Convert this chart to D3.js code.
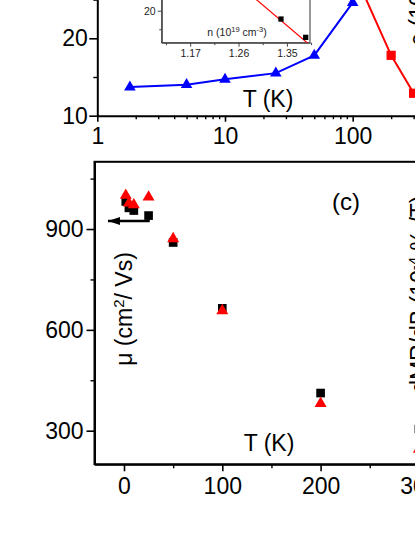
<!DOCTYPE html>
<html><head><meta charset="utf-8">
<script src="https://cdn.jsdelivr.net/npm/d3@7"></script>
<style>
html,body{margin:0;padding:0;background:#fff;}
svg{display:block;font-family:"Liberation Sans",Arial,sans-serif;}
</style></head>
<body>
<svg id="c" width="415" height="537"></svg>
<script>
// ---------- data (top panel, log T) ----------
const topTicksX = [1, 10, 100];
const topMinorX = [2,3,4,5,6,7,8,9,20,30,40,50,60,70,80,90,200,300,400];
const topTicksY = [10, 20];
const topMinorY = [15, 25];
const blueT = [1.8, 5, 10, 25, 50, 100];
const blueV = [13.7, 14.0, 14.7, 15.5, 17.8, 24.6];
const redT = [100, 200, 300];
const redV = [28.9, 17.8, 12.9];
// inset
const insetTicksX = [1.17, 1.26, 1.35];
const insetMinorX = [1.125, 1.215, 1.305, 1.395];
const insetTicksY = [20];
const insetMinorY = [17.5, 22.5];
const insetN = [1.339, 1.385];
const insetV = [18.88, 16.42];
const fitN = [1.27, 1.39];
const fitV = [22.92, 15.55];
// ---------- data (bottom panel (c)) ----------
const botTicksX = [0, 100, 200, 300];
const botMinorX = [50, 150, 250];
const botTicksY = [300, 600, 900];
const botMinorY = [450, 750, 1050];
const muT = [1.8, 5, 10, 25, 50, 100, 200, 300];
const muV = [982, 963, 955, 940, 860, 664, 412, 305];
const dmrT = [1.8, 5, 10, 25, 50, 100, 200, 300];
const dmrV = [10.0, 9.77, 9.72, 9.95, 8.71, 6.57, 3.81, 2.45];
const arrowT = [-16.3, 25, 25];
const arrowMu = [924, 924, 945];

const svg = d3.select("#c");
svg.append("rect").attr("width",415).attr("height",537).attr("fill","#fff");
const FS = 23;

function styleAxis(g, fs){
  g.select(".domain").attr("stroke","#000").attr("stroke-width",2);
  g.selectAll(".tick line").attr("stroke","#000").attr("stroke-width",1.6);
  g.selectAll(".tick text").attr("font-size",fs).attr("fill","#000")
   .attr("font-family",'"Liberation Sans",Arial,sans-serif');
}

// ================= TOP PANEL =================
const xTop = d3.scaleLog().domain([1, 400]).range([97.3, 97.3 + Math.log10(400)*127.7]);
const yTop = d3.scaleLinear().domain([10, 30]).range([115.7, 115.7 - 20*7.74]);
const yRho = d3.scaleLinear().domain([10, 30]).range([115.7, 115.7 - 20*7.74]);

const gT = svg.append("g");
gT.append("g").attr("transform",`translate(0,${yTop(10)})`)
  .call(d3.axisBottom(xTop).tickValues(topMinorX).tickSize(3.5).tickFormat(""))
  .call(g=>{g.select(".domain").remove(); g.selectAll("line").attr("stroke","#000").attr("stroke-width",1.4);});
gT.append("g").attr("transform",`translate(${xTop(1)},0)`)
  .call(d3.axisLeft(yTop).tickValues(topMinorY).tickSize(4).tickFormat(""))
  .call(g=>{g.select(".domain").remove(); g.selectAll("line").attr("stroke","#000").attr("stroke-width",1.4);});
gT.append("g").attr("transform",`translate(0,${yTop(10)})`)
  .call(d3.axisBottom(xTop).tickValues(topTicksX).tickFormat(d3.format("d")).tickSize(6).tickSizeOuter(0).tickPadding(6))
  .call(g=>styleAxis(g,FS));
gT.append("g").attr("transform",`translate(${xTop(1)},0)`)
  .call(d3.axisLeft(yTop).tickValues(topTicksY).tickSize(8).tickSizeOuter(0).tickPadding(1.5))
  .call(g=>styleAxis(g,FS));

// inset
const xIn = d3.scaleLinear().domain([1.117, 1.393]).range([161.7, 310]);
const yIn = d3.scaleLinear().domain([15.7, 25]).range([42.7, 42.7 - 9.3*7.44]);
const gI = svg.append("g");
gI.append("rect").attr("x",xIn(1.117)).attr("y",yIn(25)).attr("width",xIn(1.393)-xIn(1.117))
  .attr("height",yIn(15.7)-yIn(25)).attr("fill","#fff").attr("stroke","#444").attr("stroke-width",1.1);
gI.append("clipPath").attr("id","inclip").append("rect")
  .attr("x",xIn(1.117)).attr("y",yIn(25)).attr("width",xIn(1.393)-xIn(1.117)).attr("height",yIn(15.7)-yIn(25));
gI.append("g").attr("transform",`translate(0,${yIn(15.7)})`)
  .call(d3.axisBottom(xIn).tickValues(insetMinorX).tickSize(2.5).tickFormat(""))
  .call(g=>{g.select(".domain").remove(); g.selectAll("line").attr("stroke","#444").attr("stroke-width",1);});
gI.append("g").attr("transform",`translate(0,${yIn(15.7)})`)
  .call(d3.axisBottom(xIn).tickValues(insetTicksX).tickFormat(d3.format(".2f")).tickSize(4).tickSizeOuter(0).tickPadding(3))
  .call(g=>{g.select(".domain").attr("stroke","#444").attr("stroke-width",1.1);
            g.selectAll(".tick line").attr("stroke","#444").attr("stroke-width",1);
            g.selectAll(".tick text").attr("font-size",10.5).attr("fill","#222");});
gI.append("g").attr("transform",`translate(${xIn(1.117)},0)`)
  .call(d3.axisLeft(yIn).tickValues(insetMinorY).tickSize(2.5).tickFormat(""))
  .call(g=>{g.select(".domain").remove(); g.selectAll("line").attr("stroke","#444").attr("stroke-width",1);});
gI.append("g").attr("transform",`translate(${xIn(1.117)},0)`)
  .call(d3.axisLeft(yIn).tickValues(insetTicksY).tickSize(4).tickSizeOuter(0).tickPadding(2))
  .call(g=>{g.select(".domain").attr("stroke","#444").attr("stroke-width",1.1);
            g.selectAll(".tick line").attr("stroke","#444").attr("stroke-width",1);
            g.selectAll(".tick text").attr("font-size",10.5).attr("fill","#222");});
gI.append("path").attr("clip-path","url(#inclip)")
  .attr("d", d3.line().x(i=>xIn(fitN[i])).y(i=>yIn(fitV[i]))(d3.range(fitN.length)))
  .attr("fill","none").attr("stroke","#f00").attr("stroke-width",1.2);
gI.selectAll("path.sq").data(d3.range(insetN.length)).join("path").attr("class","sq")
  .attr("transform",i=>`translate(${xIn(insetN[i])},${yIn(insetV[i])})`)
  .attr("d", d3.symbol(d3.symbolSquare, 28)).attr("fill","#000");
const nl = gI.append("text").attr("x",237).attr("y",35.5).attr("text-anchor","middle")
  .attr("font-size",10.5).attr("fill","#222");
nl.append("tspan").text("n (10");
nl.append("tspan").attr("dy",-4).attr("font-size",7.5).text("19");
nl.append("tspan").attr("dy",4).text(" cm");
nl.append("tspan").attr("dy",-4).attr("font-size",7.5).text("-3");
nl.append("tspan").attr("dy",4).text(")");

// series
gT.append("path")
  .attr("d", d3.line().x(i=>xTop(blueT[i])).y(i=>yTop(blueV[i]))(d3.range(blueT.length)))
  .attr("fill","none").attr("stroke","#0000ff").attr("stroke-width",2);
gT.selectAll("path.bt").data(d3.range(blueT.length)).join("path").attr("class","bt")
  .attr("transform",i=>`translate(${xTop(blueT[i])},${yTop(blueV[i])})`)
  .attr("d", d3.symbol(d3.symbolTriangle, 58)).attr("fill","#0000ff");
gT.append("path")
  .attr("d", d3.line().x(i=>xTop(redT[i])).y(i=>yRho(redV[i]))(d3.range(redT.length)))
  .attr("fill","none").attr("stroke","#f00").attr("stroke-width",2);
gT.selectAll("path.rs").data(d3.range(redT.length)).join("path").attr("class","rs")
  .attr("transform",i=>`translate(${xTop(redT[i])},${yRho(redV[i])})`)
  .attr("d", d3.symbol(d3.symbolSquare, 85)).attr("fill","#f00");

gT.append("text").attr("x",268).attr("y",107).attr("text-anchor","middle")
  .attr("font-size",FS).text("T (K)");
const rl = gT.append("text").attr("transform","translate(426,46) rotate(-90)")
  .attr("text-anchor","start").attr("font-size",FS);
rl.append("tspan").text("ρ (10");
rl.append("tspan").attr("dy",-8).attr("font-size",15).text("-3");
rl.append("tspan").attr("dy",8).text(" Ω cm)");

// ================= BOTTOM PANEL =================
const xB = d3.scaleLinear().domain([-30, 330]).range([124 - 30*0.983, 124 + 330*0.983]);
const yB = d3.scaleLinear().domain([200, 1100]).range([464.3, 161.8]);
const yR = d3.scaleLinear().domain([2, 11]).range([464.3, 161.8]);
const gB = svg.append("g");
gB.append("rect").attr("x",xB(-30)).attr("y",yB(1100)).attr("width",xB(330)-xB(-30))
  .attr("height",yB(200)-yB(1100)).attr("fill","none").attr("stroke","#000").attr("stroke-width",2);
gB.append("g").attr("transform",`translate(0,${yB(200)})`)
  .call(d3.axisBottom(xB).tickValues(botMinorX).tickSize(4).tickFormat(""))
  .call(g=>{g.select(".domain").remove(); g.selectAll("line").attr("stroke","#000").attr("stroke-width",1.4);});
gB.append("g").attr("transform",`translate(${xB(-30)},0)`)
  .call(d3.axisLeft(yB).tickValues(botMinorY).tickSize(4).tickFormat(""))
  .call(g=>{g.select(".domain").remove(); g.selectAll("line").attr("stroke","#000").attr("stroke-width",1.4);});
gB.append("g").attr("transform",`translate(0,${yB(200)})`)
  .call(d3.axisBottom(xB).tickValues(botTicksX).tickSize(7).tickSizeOuter(0).tickPadding(6.4))
  .call(g=>styleAxis(g,FS));
gB.append("g").attr("transform",`translate(${xB(-30)},0)`)
  .call(d3.axisLeft(yB).tickValues(botTicksY).tickSize(8).tickSizeOuter(0).tickPadding(3))
  .call(g=>styleAxis(g,FS));

gB.selectAll("path.ms").data(d3.range(muT.length)).join("path").attr("class","ms")
  .attr("transform",i=>`translate(${xB(muT[i])},${yB(muV[i])})`)
  .attr("d", d3.symbol(d3.symbolSquare, 75)).attr("fill","#000");
gB.selectAll("path.dt").data(d3.range(dmrT.length)).join("path").attr("class","dt")
  .attr("transform",i=>`translate(${xB(dmrT[i])},${yR(dmrV[i])})`)
  .attr("d", d3.symbol(d3.symbolTriangle, 62)).attr("fill","#f00");

// arrow annotation
gB.append("path")
  .attr("d", d3.line().x(i=>xB(arrowT[i])).y(i=>yB(arrowMu[i]))(d3.range(arrowT.length)))
  .attr("fill","none").attr("stroke","#000").attr("stroke-width",2.4);
{
  const tx = xB(arrowT[0]), ty = yB(arrowMu[0]);
  gB.append("path").attr("d",`M${tx},${ty}L${tx+12},${ty-4}L${tx+12},${ty+4}Z`).attr("fill","#000");
}

gB.append("text").attr("x",346).attr("y",210).attr("text-anchor","middle").attr("font-size",24).text("(c)");
gB.append("text").attr("x",269).attr("y",451).attr("text-anchor","middle").attr("font-size",FS).text("T (K)");
const ml = gB.append("text").attr("transform","translate(132,309) rotate(-90)")
  .attr("text-anchor","middle").attr("font-size",FS);
ml.append("tspan").text("μ (cm");
ml.append("tspan").attr("dy",-8).attr("font-size",15).text("2");
ml.append("tspan").attr("dy",8).text("/ Vs)");
const dl = gB.append("text").attr("transform","translate(427,298) rotate(-90)")
  .attr("text-anchor","middle").attr("font-size",FS);
dl.append("tspan").text("-dMR/dB (10");
dl.append("tspan").attr("dy",-8).attr("font-size",15).text("-4");
dl.append("tspan").attr("dy",8).text(" % /T)");
</script>
</body></html>
